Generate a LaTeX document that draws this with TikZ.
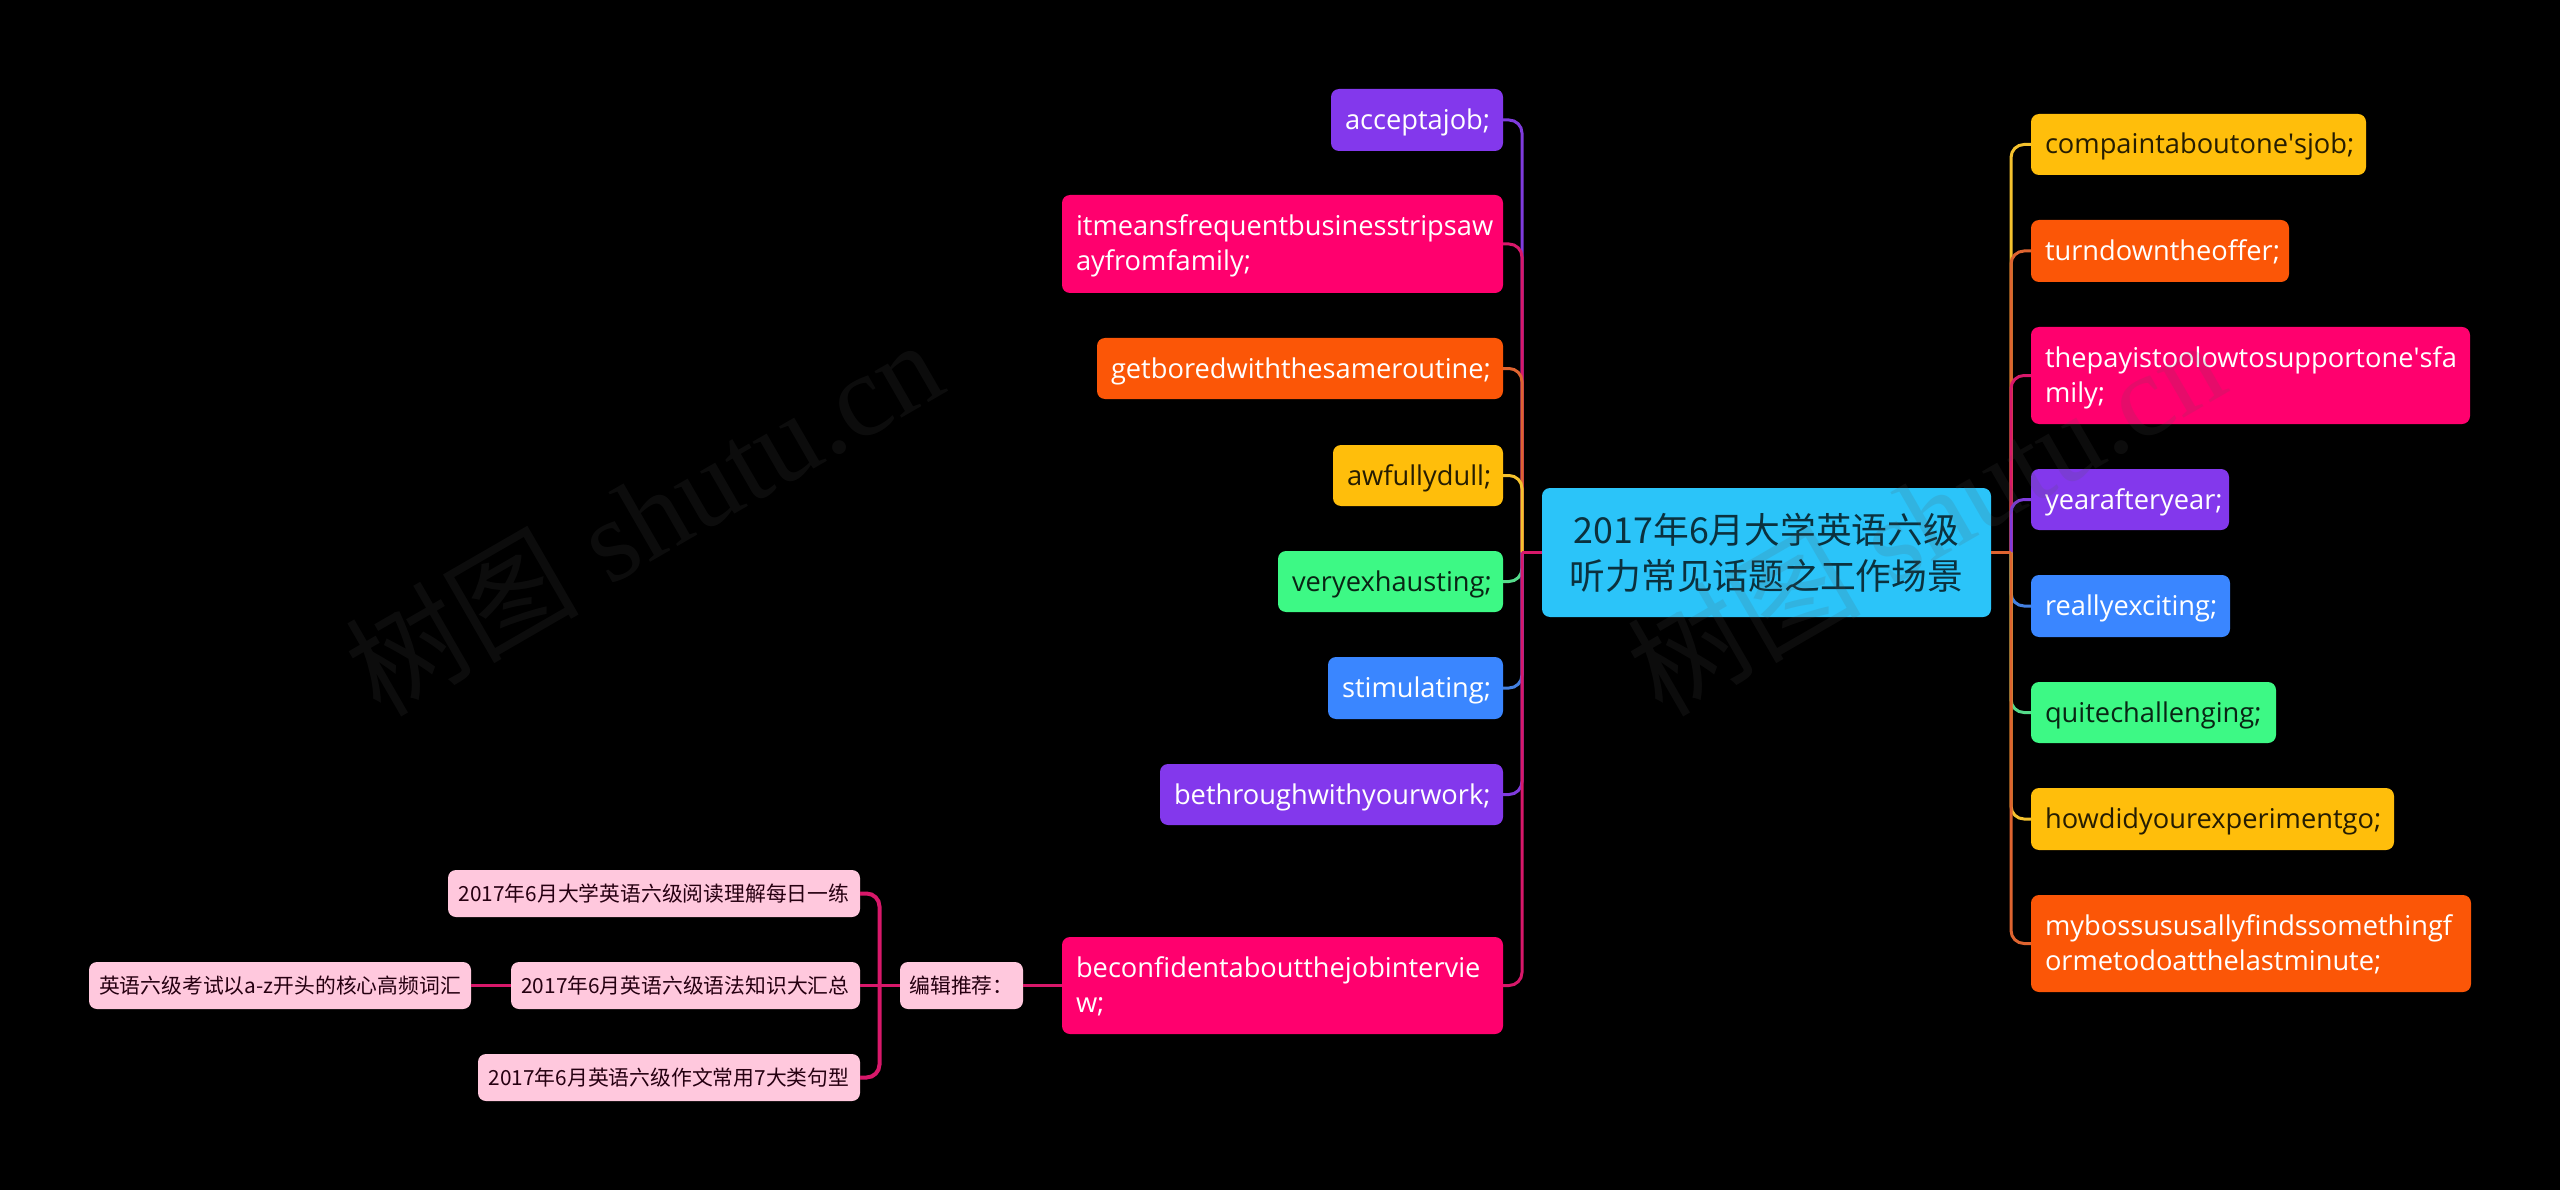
\documentclass[tikz,border=0pt]{standalone}
\usepackage{fontspec}
\setmainfont{Open Sans}
\newfontfamily\cjk{Noto Sans CJK SC}
\newfontfamily\wmlatin{Liberation Serif}
\definecolor{cpurple}{HTML}{8338EC}
\definecolor{cpink}{HTML}{FF006E}
\definecolor{corange}{HTML}{FB5607}
\definecolor{cyellow}{HTML}{FFBE0B}
\definecolor{cgreen}{HTML}{3DF985}
\definecolor{cblue}{HTML}{3A86FF}
\definecolor{ccyan}{HTML}{2BC4F9}
\definecolor{cblush}{HTML}{FFC8DD}
\definecolor{lpurple}{HTML}{7F3BDD}
\definecolor{lpink}{HTML}{D8186A}
\definecolor{lorange}{HTML}{DE6430}
\definecolor{lyellow}{HTML}{F5C22E}
\definecolor{lgreen}{HTML}{55DB8A}
\definecolor{lblue}{HTML}{4480E0}
\newcommand{\leaftop}{\rule{0pt}{30pt}}
\newcommand{\leafbot}{\rule[-11pt]{0pt}{11pt}}
\tikzset{
  base/.style={rounded corners=8pt, inner sep=0pt, outer sep=0pt, align=left},
  leaf/.style={base, font=\fontsize{27.25}{35}\selectfont,
    execute at begin node=\leaftop, execute at end node=\leafbot},
  rootbox/.style={base, align=center, fill=ccyan, text=black!75!ccyan, font=\cjk\fontsize{35.75}{46}\selectfont},
  small/.style={base, align=center, fill=cblush, text=black!85!cpink, font=\cjk\fontsize{20.8}{27}\selectfont},
  fpurple/.style={leaf, fill=cpurple, text=white},
  fpink/.style={leaf, fill=cpink, text=white},
  forange/.style={leaf, fill=corange, text=white},
  fyellow/.style={leaf, fill=cyellow, text=black!85!cyellow},
  fgreen/.style={leaf, fill=cgreen, text=black!85!cgreen},
  fblue/.style={leaf, fill=cblue, text=white},
  conn/.style={line width=3pt, rounded corners=13pt},
  sconn/.style={conn, lpink, line width=4pt},
  wmark/.style={text=white!33!black, opacity=.15, rotate=30, inner sep=0pt, font=\fontsize{117}{130}\selectfont},
}
\newcommand{\boxnode}[8]{%
  \node[#1, minimum width={(#5-#3)*1pt}, minimum height={(#6-#4)*1pt}, text width={(#5-#3-2*#7)*1pt}]
    (#2) at ({(#3+#5)/2},{(#4+#6)/2}) {#8};}
\begin{document}
\begin{tikzpicture}[x=1pt,y=-1pt]
\path[use as bounding box, fill=black] (0,0) rectangle (2560,1190);
% root
\boxnode{rootbox}{root}{1542}{488}{1991}{617}{10}{2017年6月大学英语六级\\听力常见话题之工作场景}
% left branch
\boxnode{fpurple}{la}{1331}{89}{1503}{151}{14}{acceptajob;}
\boxnode{fpink}{lb}{1062}{195}{1503}{293}{14}{itmeansfrequentbusinesstripsaw\\ayfromfamily;}
\boxnode{forange}{lc}{1097}{338}{1503}{399}{14}{getboredwiththesameroutine;}
\boxnode{fyellow}{ld}{1333}{445}{1503}{506}{14}{awfullydull;}
\boxnode{fgreen}{le}{1278}{551}{1503}{612}{14}{veryexhausting;}
\boxnode{fblue}{lf}{1328}{657}{1503}{719}{14}{stimulating;}
\boxnode{fpurple}{lg}{1160}{764}{1503}{825}{14}{bethroughwithyourwork;}
\boxnode{fpink}{lh}{1062}{937}{1503}{1034}{14}{beconfidentaboutthejobintervie\\w;}
% right branch
\boxnode{fyellow}{ra}{2031}{114}{2366}{175}{14}{compaintaboutone\textquotesingle sjob;}
\boxnode{forange}{rb}{2031}{220}{2289}{282}{14}{turndowntheoffer;}
\boxnode{fpink}{rc}{2031}{327}{2470}{424}{14}{thepayistoolowtosupportone\textquotesingle sfa\\mily;}
\boxnode{fpurple}{rd}{2031}{469}{2229}{530}{14}{yearafteryear;}
\boxnode{fblue}{re}{2031}{575}{2230}{637}{14}{reallyexciting;}
\boxnode{fgreen}{rf}{2031}{682}{2276}{743}{14}{quitechallenging;}
\boxnode{fyellow}{rg}{2031}{788}{2394}{850}{14}{howdidyourexperimentgo;}
\boxnode{forange}{rh}{2031}{895}{2471}{992}{14}{mybossususallyfindssomethingf\\ormetodoatthelastminute;}
% small nodes
\boxnode{small}{sd}{900}{962}{1023}{1009}{8}{编辑推荐：}
\boxnode{small}{sa}{448}{870}{860}{917}{8}{2017年6月大学英语六级阅读理解每日一练}
\boxnode{small}{sb}{511}{962}{860}{1009}{8}{2017年6月英语六级语法知识大汇总}
\boxnode{small}{sc}{478}{1054}{860}{1101}{8}{2017年6月英语六级作文常用7大类句型}
\boxnode{small}{se}{89}{962}{471}{1009}{8}{英语六级考试以a-z开头的核心高频词汇}
% trunks
\coordinate (lt) at (1522,552.5);
\coordinate (rt) at (2011,552.5);
\coordinate (st) at (879.5,985.5);
% left connectors: the nearer a branch is to the root, the higher it lies
\draw[conn,lpurple] (lt) |- (la.east);
\draw[conn,lpink] (lt) |- (lb.east);
\draw[conn,lorange] (lt) |- (lc.east);
\draw[conn,lyellow] (lt) |- (ld.east);
\draw[conn,lgreen] (lt) |- (le.east);
\draw[conn,lblue] (lt) |- (lf.east);
\draw[conn,lpurple] (lt) |- (lg.east);
\draw[conn,lpink] (lt) |- (lh.east);
\draw[conn,lpink] (root.west) -- (lt);
% right connectors
\draw[conn,lyellow] (rt) |- (ra.west);
\draw[conn,lorange] (rt) |- (rb.west);
\draw[conn,lpink] (rt) |- (rc.west);
\draw[conn,lpurple] (rt) |- (rd.west);
\draw[conn,lblue] (rt) |- (re.west);
\draw[conn,lgreen] (rt) |- (rf.west);
\draw[conn,lyellow] (rt) |- (rg.west);
\draw[conn,lorange] (rt) |- (rh.west);
\draw[conn,lorange] (root.east) -- (rt);
% small connectors
\draw[conn,lpink] (lh.west) -- (sd.east);
\draw[sconn] (st) |- (sa.east);
\draw[sconn] (st) |- (sc.east);
\draw[conn,lpink] (sd.west) -- (sb.east);
\draw[conn,lpink] (sb.west) -- (se.east);
% watermarks
\node[wmark] (w1) at (643,516) {{\cjk 树图} {\wmlatin shutu.cn}};
\node[wmark] (w2) at (1925,516) {{\cjk 树图} {\wmlatin shutu.cn}};
\end{tikzpicture}
\end{document}
